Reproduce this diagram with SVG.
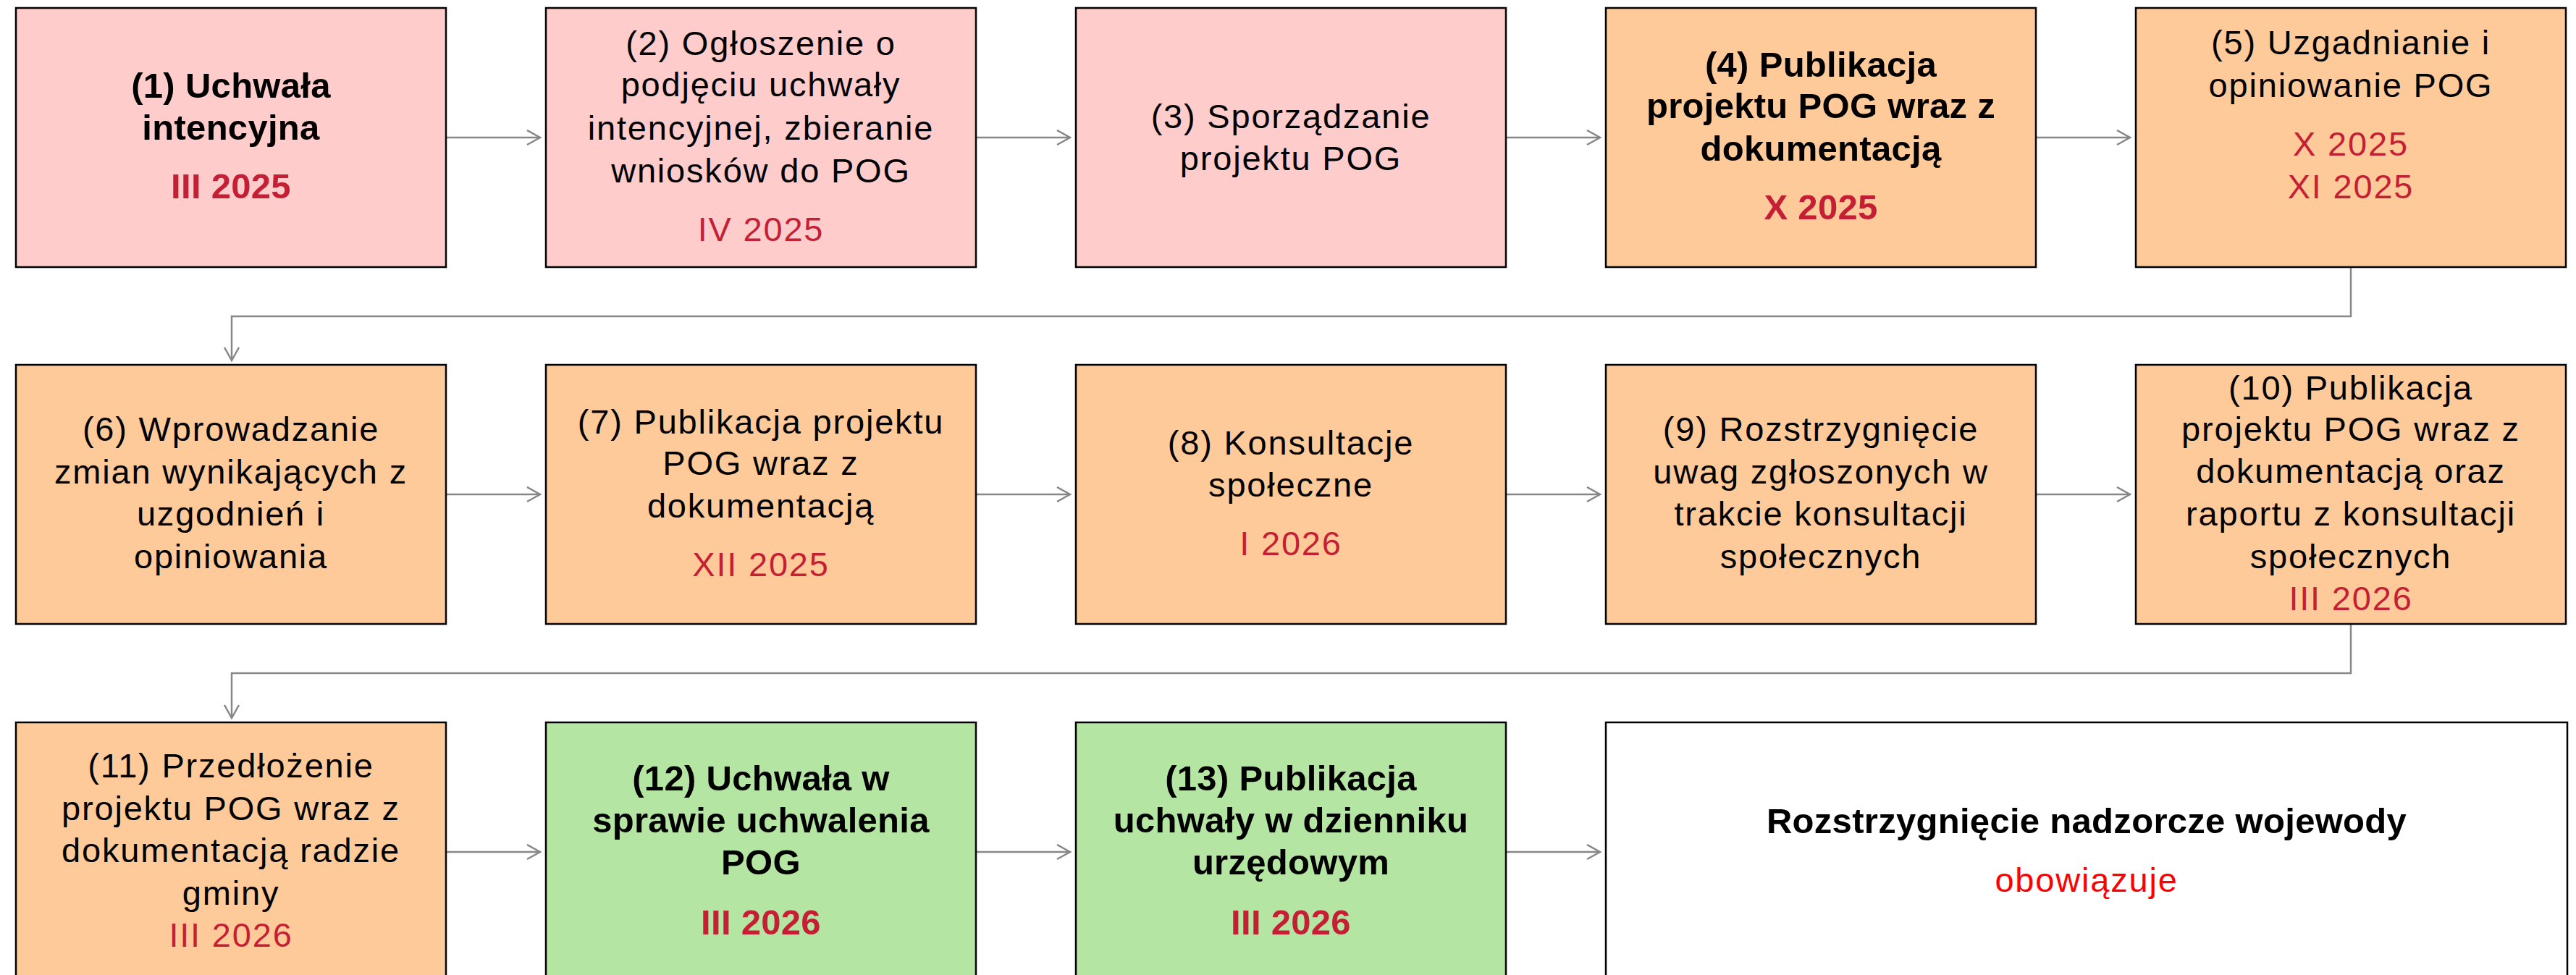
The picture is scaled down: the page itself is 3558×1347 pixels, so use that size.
<svg xmlns="http://www.w3.org/2000/svg" width="3558" height="1347" viewBox="0 0 3558 1347">
<style>
.box{stroke:#000;stroke-width:2.5}
.pink{fill:#FFCCCC}.orange{fill:#FFCA99}.green{fill:#B4E5A2}.white{fill:#FFFFFF}
text{font-family:"Liberation Sans",Arial,sans-serif;text-anchor:middle;fill:#000}
.r{font-size:47px;letter-spacing:1.8px}
.b{font-size:49px;font-weight:bold;letter-spacing:0.3px}
.d{fill:#C51F35}
.o{fill:#FF0000}
.conn{fill:none;stroke:#878787;stroke-width:2.5}
</style>
<defs>
<marker id="ah" markerUnits="userSpaceOnUse" markerWidth="22" markerHeight="24" refX="19" refY="11" orient="auto" viewBox="0 0 22 24">
<path d="M1,1 L19,11 L1,21" fill="none" stroke="#878787" stroke-width="2.5"/>
</marker>
</defs>
<rect width="3558" height="1347" fill="#FFFFFF"/>

<g id="connectors">
<line class="conn" x1="616" y1="190" x2="746" y2="190" marker-end="url(#ah)"/>
<line class="conn" x1="1348" y1="190" x2="1478" y2="190" marker-end="url(#ah)"/>
<line class="conn" x1="2080" y1="190" x2="2210" y2="190" marker-end="url(#ah)"/>
<line class="conn" x1="2812" y1="190" x2="2942" y2="190" marker-end="url(#ah)"/>
<polyline class="conn" points="3247,369 3247,437 320,437 320,498" marker-end="url(#ah)"/>
<line class="conn" x1="616" y1="683" x2="746" y2="683" marker-end="url(#ah)"/>
<line class="conn" x1="1348" y1="683" x2="1478" y2="683" marker-end="url(#ah)"/>
<line class="conn" x1="2080" y1="683" x2="2210" y2="683" marker-end="url(#ah)"/>
<line class="conn" x1="2812" y1="683" x2="2942" y2="683" marker-end="url(#ah)"/>
<polyline class="conn" points="3247,862 3247,930 320,930 320,992" marker-end="url(#ah)"/>
<line class="conn" x1="616" y1="1177" x2="746" y2="1177" marker-end="url(#ah)"/>
<line class="conn" x1="1348" y1="1177" x2="1478" y2="1177" marker-end="url(#ah)"/>
<line class="conn" x1="2080" y1="1177" x2="2210" y2="1177" marker-end="url(#ah)"/>
</g>

<g id="n1">
<rect class="box pink" x="22" y="11" width="594" height="358"/>
<text class="b" x="319" y="135">(1) Uchwała</text>
<text class="b" x="319" y="193">intencyjna</text>
<text class="b d" x="319" y="274">III 2025</text>
</g>
<g id="n2">
<rect class="box pink" x="754" y="11" width="594" height="358"/>
<text class="r" x="1051" y="76">(2) Ogłoszenie o</text>
<text class="r" x="1051" y="133">podjęciu uchwały</text>
<text class="r" x="1051" y="193">intencyjnej, zbieranie</text>
<text class="r" x="1051" y="252">wniosków do POG</text>
<text class="r d" x="1051" y="333">IV 2025</text>
</g>
<g id="n3">
<rect class="box pink" x="1486" y="11" width="594" height="358"/>
<text class="r" x="1783" y="177">(3) Sporządzanie</text>
<text class="r" x="1783" y="235">projektu POG</text>
</g>
<g id="n4">
<rect class="box orange" x="2218" y="11" width="594" height="358"/>
<text class="b" x="2515" y="106">(4) Publikacja</text>
<text class="b" x="2515" y="163">projektu POG wraz z</text>
<text class="b" x="2515" y="222">dokumentacją</text>
<text class="b d" x="2515" y="303">X 2025</text>
</g>
<g id="n5">
<rect class="box orange" x="2950" y="11" width="594" height="358"/>
<text class="r" x="3247" y="75">(5) Uzgadnianie i</text>
<text class="r" x="3247" y="134">opiniowanie POG</text>
<text class="r d" x="3247" y="215">X 2025</text>
<text class="r d" x="3247" y="274">XI 2025</text>
</g>

<g id="n6">
<rect class="box orange" x="22" y="504" width="594" height="358"/>
<text class="r" x="319" y="609">(6) Wprowadzanie</text>
<text class="r" x="319" y="668">zmian wynikających z</text>
<text class="r" x="319" y="726">uzgodnień i</text>
<text class="r" x="319" y="785">opiniowania</text>
</g>
<g id="n7">
<rect class="box orange" x="754" y="504" width="594" height="358"/>
<text class="r" x="1051" y="599">(7) Publikacja projektu</text>
<text class="r" x="1051" y="656">POG wraz z</text>
<text class="r" x="1051" y="715">dokumentacją</text>
<text class="r d" x="1051" y="796">XII 2025</text>
</g>
<g id="n8">
<rect class="box orange" x="1486" y="504" width="594" height="358"/>
<text class="r" x="1783" y="628">(8) Konsultacje</text>
<text class="r" x="1783" y="686">społeczne</text>
<text class="r d" x="1783" y="767">I 2026</text>
</g>
<g id="n9">
<rect class="box orange" x="2218" y="504" width="594" height="358"/>
<text class="r" x="2515" y="609">(9) Rozstrzygnięcie</text>
<text class="r" x="2515" y="668">uwag zgłoszonych w</text>
<text class="r" x="2515" y="726">trakcie konsultacji</text>
<text class="r" x="2515" y="785">społecznych</text>
</g>
<g id="n10">
<rect class="box orange" x="2950" y="504" width="594" height="358"/>
<text class="r" x="3247" y="552">(10) Publikacja</text>
<text class="r" x="3247" y="609">projektu POG wraz z</text>
<text class="r" x="3247" y="667">dokumentacją oraz</text>
<text class="r" x="3247" y="726">raportu z konsultacji</text>
<text class="r" x="3247" y="785">społecznych</text>
<text class="r d" x="3247" y="843">III 2026</text>
</g>

<g id="n11">
<rect class="box orange" x="22" y="998" width="594" height="358"/>
<text class="r" x="319" y="1074">(11) Przedłożenie</text>
<text class="r" x="319" y="1133">projektu POG wraz z</text>
<text class="r" x="319" y="1191">dokumentacją radzie</text>
<text class="r" x="319" y="1250">gminy</text>
<text class="r d" x="319" y="1308">III 2026</text>
</g>
<g id="n12">
<rect class="box green" x="754" y="998" width="594" height="358"/>
<text class="b" x="1051" y="1092">(12) Uchwała w</text>
<text class="b" x="1051" y="1150">sprawie uchwalenia</text>
<text class="b" x="1051" y="1208">POG</text>
<text class="b d" x="1051" y="1291">III 2026</text>
</g>
<g id="n13">
<rect class="box green" x="1486" y="998" width="594" height="358"/>
<text class="b" x="1783" y="1092">(13) Publikacja</text>
<text class="b" x="1783" y="1150">uchwały w dzienniku</text>
<text class="b" x="1783" y="1208">urzędowym</text>
<text class="b d" x="1783" y="1291">III 2026</text>
</g>
<g id="n14">
<rect class="box white" x="2218" y="998" width="1328" height="358"/>
<text class="b" x="2882" y="1151">Rozstrzygnięcie nadzorcze wojewody</text>
<text class="r o" x="2882" y="1232">obowiązuje</text>
</g>
</svg>
